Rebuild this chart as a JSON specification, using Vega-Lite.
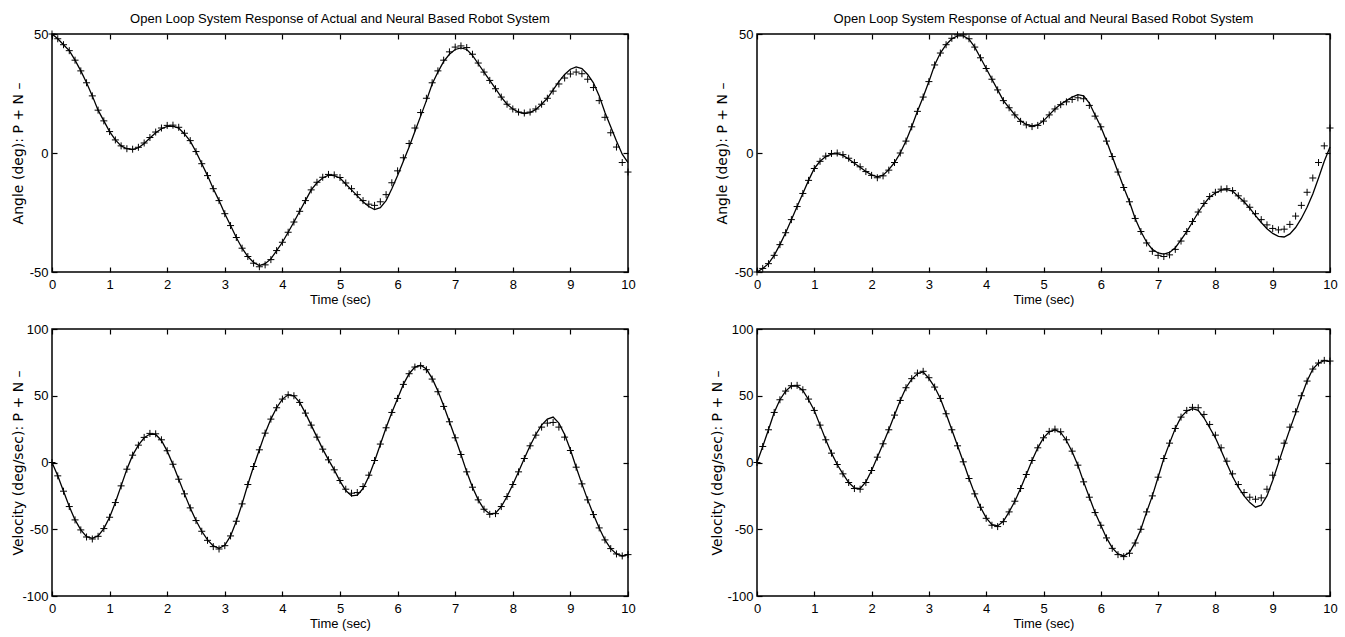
{
"$schema": "https://vega.github.io/schema/vega-lite/v6.json",
"padding": {"left": 10, "top": 12, "right": 5, "bottom": 5},
"background": "white",
"datasets": {
"tl": [
{"t":0,"a":50,"n":50},{"t":0.1,"a":48,"n":48},{"t":0.2,"a":45.5,"n":45.5},{"t":0.3,"a":43,"n":43},{"t":0.4,"a":39,"n":39},{"t":0.5,"a":34.5,"n":34.5},{"t":0.6,"a":29.5,"n":29.5},{"t":0.7,"a":24,"n":24},{"t":0.8,"a":18,"n":18},{"t":0.9,"a":13.5,"n":13.5},
{"t":1,"a":9,"n":9},{"t":1.1,"a":5.5,"n":5.5},{"t":1.2,"a":3,"n":3},{"t":1.3,"a":1.8,"n":1.8},{"t":1.4,"a":1.4,"n":1.6},{"t":1.5,"a":2.2,"n":2.4},{"t":1.6,"a":4,"n":4.2},{"t":1.7,"a":6.3,"n":6.5},{"t":1.8,"a":8.5,"n":8.8},{"t":1.9,"a":10.2,"n":10.5},
{"t":2,"a":11.2,"n":11.6},{"t":2.1,"a":11.3,"n":11.7},{"t":2.2,"a":10.5,"n":10.8},{"t":2.3,"a":8,"n":8.3},{"t":2.4,"a":5,"n":5.2},{"t":2.5,"a":0.5,"n":0.6},{"t":2.6,"a":-4.5,"n":-4.5},{"t":2.7,"a":-9.5,"n":-9.5},{"t":2.8,"a":-15,"n":-15},{"t":2.9,"a":-20,"n":-20},
{"t":3,"a":-25.5,"n":-25.5},{"t":3.1,"a":-30.5,"n":-30.5},{"t":3.2,"a":-35.5,"n":-35.5},{"t":3.3,"a":-40,"n":-40},{"t":3.4,"a":-43.5,"n":-43.5},{"t":3.5,"a":-46,"n":-46.3},{"t":3.6,"a":-47.3,"n":-47.8},{"t":3.7,"a":-46.5,"n":-47},{"t":3.8,"a":-44.5,"n":-44.8},{"t":3.9,"a":-41,"n":-41},
{"t":4,"a":-37.5,"n":-37.5},{"t":4.1,"a":-33.3,"n":-33.3},{"t":4.2,"a":-29,"n":-29},{"t":4.3,"a":-24.5,"n":-24.5},{"t":4.4,"a":-20,"n":-20},{"t":4.5,"a":-15.5,"n":-15.5},{"t":4.6,"a":-12.5,"n":-12.3},{"t":4.7,"a":-10.5,"n":-10.2},{"t":4.8,"a":-9.3,"n":-9},{"t":4.9,"a":-9.5,"n":-9.2},
{"t":5,"a":-10.5,"n":-10.3},{"t":5.1,"a":-13,"n":-12.6},{"t":5.2,"a":-15.5,"n":-15},{"t":5.3,"a":-18,"n":-17.5},{"t":5.4,"a":-20.5,"n":-20},{"t":5.5,"a":-22.5,"n":-21.5},{"t":5.6,"a":-23.8,"n":-22},{"t":5.7,"a":-23,"n":-20.5},{"t":5.8,"a":-20,"n":-17.5},{"t":5.9,"a":-15,"n":-12.5},
{"t":6,"a":-9.5,"n":-7.5},{"t":6.1,"a":-3.5,"n":-2},{"t":6.2,"a":2.5,"n":4},{"t":6.3,"a":9,"n":10.5},{"t":6.4,"a":15.5,"n":17},{"t":6.5,"a":22,"n":23},{"t":6.6,"a":29,"n":29.5},{"t":6.7,"a":34,"n":34.5},{"t":6.8,"a":38.5,"n":39},{"t":6.9,"a":41.5,"n":42.5},
{"t":7,"a":43.5,"n":44.5},{"t":7.1,"a":44.2,"n":45},{"t":7.2,"a":43.5,"n":44.3},{"t":7.3,"a":41,"n":41.5},{"t":7.4,"a":37.5,"n":37.8},{"t":7.5,"a":34,"n":34},{"t":7.6,"a":30.5,"n":30.5},{"t":7.7,"a":27,"n":27},{"t":7.8,"a":23.5,"n":23.5},{"t":7.9,"a":20.5,"n":20.5},
{"t":8,"a":18.5,"n":18.5},{"t":8.1,"a":17.2,"n":17.2},{"t":8.2,"a":16.6,"n":16.8},{"t":8.3,"a":17,"n":17.2},{"t":8.4,"a":18.3,"n":18.5},{"t":8.5,"a":20.5,"n":20.5},{"t":8.6,"a":23,"n":23},{"t":8.7,"a":26.5,"n":26},{"t":8.8,"a":30,"n":29},{"t":8.9,"a":33,"n":31.5},
{"t":9,"a":35.2,"n":33.2},{"t":9.1,"a":36.2,"n":34},{"t":9.2,"a":35.5,"n":33.3},{"t":9.3,"a":33,"n":31},{"t":9.4,"a":29.5,"n":27.5},{"t":9.5,"a":24,"n":22},{"t":9.6,"a":17,"n":15},{"t":9.7,"a":11,"n":8.5},{"t":9.8,"a":5,"n":2.5},{"t":9.9,"a":-0.5,"n":-4},
{"t":10,"a":-4,"n":-8}
],
"tr": [
{"t":0,"a":-50,"n":-50},{"t":0.1,"a":-48.5,"n":-48.5},{"t":0.2,"a":-46.5,"n":-46.5},{"t":0.3,"a":-43,"n":-43},{"t":0.4,"a":-38.5,"n":-38.5},{"t":0.5,"a":-33.5,"n":-33.5},{"t":0.6,"a":-28,"n":-28},{"t":0.7,"a":-22.5,"n":-22.5},{"t":0.8,"a":-17,"n":-17},{"t":0.9,"a":-11.5,"n":-11.5},
{"t":1,"a":-6.5,"n":-6.5},{"t":1.1,"a":-3.5,"n":-3.5},{"t":1.2,"a":-1.5,"n":-1.3},{"t":1.3,"a":-0.5,"n":-0.2},{"t":1.4,"a":-0.3,"n":0},{"t":1.5,"a":-1,"n":-0.7},{"t":1.6,"a":-2.5,"n":-2.2},{"t":1.7,"a":-4.3,"n":-4},{"t":1.8,"a":-6,"n":-5.8},{"t":1.9,"a":-7.8,"n":-7.8},
{"t":2,"a":-9.2,"n":-9.4},{"t":2.1,"a":-10,"n":-10.4},{"t":2.2,"a":-9.3,"n":-9.6},{"t":2.3,"a":-7,"n":-7.2},{"t":2.4,"a":-4,"n":-4},{"t":2.5,"a":0,"n":0},{"t":2.6,"a":5,"n":5},{"t":2.7,"a":11,"n":11},{"t":2.8,"a":17.5,"n":17.5},{"t":2.9,"a":23.5,"n":23.5},
{"t":3,"a":30,"n":30},{"t":3.1,"a":37,"n":37},{"t":3.2,"a":42,"n":42},{"t":3.3,"a":45.5,"n":45.5},{"t":3.4,"a":48,"n":48.2},{"t":3.5,"a":49.2,"n":49.6},{"t":3.6,"a":49.2,"n":49.6},{"t":3.7,"a":47.8,"n":48},{"t":3.8,"a":44.5,"n":44.5},{"t":3.9,"a":40,"n":40},
{"t":4,"a":35.5,"n":35.5},{"t":4.1,"a":31,"n":31},{"t":4.2,"a":26.5,"n":26.5},{"t":4.3,"a":22,"n":22},{"t":4.4,"a":19,"n":19},{"t":4.5,"a":16,"n":16},{"t":4.6,"a":13.5,"n":13.3},{"t":4.7,"a":12,"n":11.8},{"t":4.8,"a":11.4,"n":11.1},{"t":4.9,"a":11.8,"n":11.6},
{"t":5,"a":13.5,"n":13.4},{"t":5.1,"a":16,"n":16},{"t":5.2,"a":18.5,"n":18.5},{"t":5.3,"a":20.5,"n":20.3},{"t":5.4,"a":22,"n":21.5},{"t":5.5,"a":23.5,"n":22.5},{"t":5.6,"a":24.5,"n":23.2},{"t":5.7,"a":24,"n":22.8},{"t":5.8,"a":21,"n":20},{"t":5.9,"a":16,"n":15.5},
{"t":6,"a":11,"n":11},{"t":6.1,"a":5,"n":5},{"t":6.2,"a":-1.5,"n":-1.5},{"t":6.3,"a":-8,"n":-8},{"t":6.4,"a":-14.5,"n":-14.5},{"t":6.5,"a":-20.5,"n":-20.5},{"t":6.6,"a":-27.5,"n":-27.5},{"t":6.7,"a":-33,"n":-33},{"t":6.8,"a":-37.5,"n":-37.8},{"t":6.9,"a":-40.5,"n":-41.3},
{"t":7,"a":-42,"n":-43},{"t":7.1,"a":-42.5,"n":-43.5},{"t":7.2,"a":-41.8,"n":-42.8},{"t":7.3,"a":-39.8,"n":-40.5},{"t":7.4,"a":-36.5,"n":-37},{"t":7.5,"a":-33,"n":-33},{"t":7.6,"a":-29,"n":-28.8},{"t":7.7,"a":-25,"n":-24.8},{"t":7.8,"a":-21.5,"n":-21.2},{"t":7.9,"a":-18.5,"n":-18.3},
{"t":8,"a":-16.8,"n":-16.5},{"t":8.1,"a":-15.6,"n":-15.2},{"t":8.2,"a":-15.4,"n":-15},{"t":8.3,"a":-16,"n":-15.8},{"t":8.4,"a":-18.3,"n":-18},{"t":8.5,"a":-20.5,"n":-20.2},{"t":8.6,"a":-23.2,"n":-22.8},{"t":8.7,"a":-26.3,"n":-25.5},{"t":8.8,"a":-29.2,"n":-28},{"t":8.9,"a":-31.8,"n":-30.2},
{"t":9,"a":-33.8,"n":-31.7},{"t":9.1,"a":-35,"n":-32.3},{"t":9.2,"a":-35.3,"n":-32},{"t":9.3,"a":-34,"n":-30},{"t":9.4,"a":-31.3,"n":-26.5},{"t":9.5,"a":-27.5,"n":-22},{"t":9.6,"a":-22.8,"n":-16.5},{"t":9.7,"a":-17.2,"n":-10.5},{"t":9.8,"a":-10.5,"n":-4},{"t":9.9,"a":-3.5,"n":3},
{"t":10,"a":2.5,"n":10.5}
],
"bl": [
{"t":0,"a":0,"n":0},{"t":0.1,"a":-10,"n":-10},{"t":0.2,"a":-21.5,"n":-21.5},{"t":0.3,"a":-33,"n":-33},{"t":0.4,"a":-43,"n":-43},{"t":0.5,"a":-50.5,"n":-50.5},{"t":0.6,"a":-55.5,"n":-55.8},{"t":0.7,"a":-56.8,"n":-57.3},{"t":0.8,"a":-55,"n":-55.3},{"t":0.9,"a":-49.5,"n":-49.5},
{"t":1,"a":-41,"n":-41},{"t":1.1,"a":-30,"n":-30},{"t":1.2,"a":-17.5,"n":-17.5},{"t":1.3,"a":-5,"n":-5},{"t":1.4,"a":5.5,"n":5.5},{"t":1.5,"a":13,"n":13},{"t":1.6,"a":18.5,"n":18.8},{"t":1.7,"a":21.3,"n":21.8},{"t":1.8,"a":21,"n":21.5},{"t":1.9,"a":16.5,"n":17},
{"t":2,"a":8.5,"n":8.8},{"t":2.1,"a":-1.5,"n":-1.3},{"t":2.2,"a":-12.5,"n":-12.5},{"t":2.3,"a":-23.5,"n":-23.5},{"t":2.4,"a":-34,"n":-34},{"t":2.5,"a":-43.5,"n":-43.5},{"t":2.6,"a":-51.5,"n":-51.5},{"t":2.7,"a":-58,"n":-58.3},{"t":2.8,"a":-62.5,"n":-63},{"t":2.9,"a":-64.3,"n":-64.8},
{"t":3,"a":-62,"n":-62.3},{"t":3.1,"a":-55,"n":-55},{"t":3.2,"a":-44,"n":-44},{"t":3.3,"a":-31,"n":-31},{"t":3.4,"a":-16.5,"n":-16.5},{"t":3.5,"a":-3,"n":-3},{"t":3.6,"a":9.5,"n":9.5},{"t":3.7,"a":22,"n":22},{"t":3.8,"a":32.5,"n":32.5},{"t":3.9,"a":41,"n":41},
{"t":4,"a":47.5,"n":47.5},{"t":4.1,"a":50.7,"n":50.7},{"t":4.2,"a":50,"n":50},{"t":4.3,"a":45,"n":45},{"t":4.4,"a":37,"n":37},{"t":4.5,"a":28,"n":28},{"t":4.6,"a":19,"n":19},{"t":4.7,"a":10,"n":10},{"t":4.8,"a":2,"n":2},{"t":4.9,"a":-5.5,"n":-5.5},
{"t":5,"a":-14,"n":-13.5},{"t":5.1,"a":-21,"n":-20},{"t":5.2,"a":-25,"n":-23},{"t":5.3,"a":-24.5,"n":-22.5},{"t":5.4,"a":-19.5,"n":-18},{"t":5.5,"a":-10.5,"n":-9.5},{"t":5.6,"a":1,"n":1.5},{"t":5.7,"a":13.5,"n":13.8},{"t":5.8,"a":26,"n":26},{"t":5.9,"a":37.5,"n":37.5},
{"t":6,"a":48,"n":48},{"t":6.1,"a":58.5,"n":58.5},{"t":6.2,"a":66.5,"n":66.5},{"t":6.3,"a":71.5,"n":71.5},{"t":6.4,"a":72.8,"n":72.5},{"t":6.5,"a":70,"n":69.5},{"t":6.6,"a":63,"n":62.5},{"t":6.7,"a":53.5,"n":53},{"t":6.8,"a":42.5,"n":42},{"t":6.9,"a":30.5,"n":30.5},
{"t":7,"a":18.5,"n":18.5},{"t":7.1,"a":6,"n":6},{"t":7.2,"a":-7,"n":-7},{"t":7.3,"a":-18.5,"n":-18.5},{"t":7.4,"a":-28,"n":-28},{"t":7.5,"a":-35,"n":-35},{"t":7.6,"a":-38.5,"n":-38.8},{"t":7.7,"a":-38,"n":-38.3},{"t":7.8,"a":-33,"n":-33},{"t":7.9,"a":-25.5,"n":-25.5},
{"t":8,"a":-16.5,"n":-16.5},{"t":8.1,"a":-7,"n":-7},{"t":8.2,"a":3,"n":3},{"t":8.3,"a":12.5,"n":12.5},{"t":8.4,"a":21,"n":20.5},{"t":8.5,"a":28,"n":26.5},{"t":8.6,"a":32.5,"n":29.5},{"t":8.7,"a":34,"n":30},{"t":8.8,"a":29.5,"n":26.5},{"t":8.9,"a":21,"n":19},
{"t":9,"a":9.5,"n":9},{"t":9.1,"a":-3.5,"n":-3.5},{"t":9.2,"a":-16,"n":-16},{"t":9.3,"a":-28,"n":-28},{"t":9.4,"a":-39,"n":-39},{"t":9.5,"a":-49,"n":-49},{"t":9.6,"a":-58,"n":-58},{"t":9.7,"a":-64.5,"n":-64.5},{"t":9.8,"a":-68.5,"n":-68.5},{"t":9.9,"a":-70,"n":-70},
{"t":10,"a":-69,"n":-69}
],
"br": [
{"t":0,"a":0,"n":0},{"t":0.1,"a":12,"n":12},{"t":0.2,"a":24.5,"n":24.5},{"t":0.3,"a":37.5,"n":37.5},{"t":0.4,"a":47,"n":47},{"t":0.5,"a":53.5,"n":53.5},{"t":0.6,"a":57.3,"n":57.5},{"t":0.7,"a":57.3,"n":57.8},{"t":0.8,"a":54,"n":54.5},{"t":0.9,"a":47,"n":47.5},
{"t":1,"a":39,"n":39},{"t":1.1,"a":28,"n":28},{"t":1.2,"a":17,"n":17},{"t":1.3,"a":7,"n":7},{"t":1.4,"a":-1.5,"n":-1.5},{"t":1.5,"a":-8.5,"n":-8.5},{"t":1.6,"a":-15,"n":-15},{"t":1.7,"a":-19,"n":-19.5},{"t":1.8,"a":-19.5,"n":-20},{"t":1.9,"a":-14.5,"n":-15},
{"t":2,"a":-6,"n":-6},{"t":2.1,"a":4,"n":4},{"t":2.2,"a":14,"n":14},{"t":2.3,"a":24.5,"n":24.5},{"t":2.4,"a":35.5,"n":35.5},{"t":2.5,"a":46.5,"n":46.5},{"t":2.6,"a":56,"n":56},{"t":2.7,"a":62.5,"n":62.8},{"t":2.8,"a":66.5,"n":67},{"t":2.9,"a":67.8,"n":68.3},
{"t":3,"a":63,"n":63.5},{"t":3.1,"a":56.5,"n":56.5},{"t":3.2,"a":48,"n":48},{"t":3.3,"a":36.5,"n":36.5},{"t":3.4,"a":24.5,"n":24.5},{"t":3.5,"a":12.5,"n":12.5},{"t":3.6,"a":0.5,"n":0.5},{"t":3.7,"a":-12,"n":-12},{"t":3.8,"a":-23.5,"n":-23.5},{"t":3.9,"a":-33.5,"n":-33.5},
{"t":4,"a":-41.5,"n":-41.8},{"t":4.1,"a":-46.5,"n":-47},{"t":4.2,"a":-47.5,"n":-48},{"t":4.3,"a":-44,"n":-44.3},{"t":4.4,"a":-37,"n":-37},{"t":4.5,"a":-29,"n":-29},{"t":4.6,"a":-19.5,"n":-19.5},{"t":4.7,"a":-9,"n":-9},{"t":4.8,"a":1.5,"n":1.5},{"t":4.9,"a":11,"n":11},
{"t":5,"a":18.5,"n":18.5},{"t":5.1,"a":23,"n":23.3},{"t":5.2,"a":24.5,"n":25},{"t":5.3,"a":22.5,"n":23},{"t":5.4,"a":16.5,"n":17},{"t":5.5,"a":8,"n":8.5},{"t":5.6,"a":-2,"n":-2},{"t":5.7,"a":-14.5,"n":-14.5},{"t":5.8,"a":-26,"n":-26},{"t":5.9,"a":-37.5,"n":-37.5},
{"t":6,"a":-47,"n":-47},{"t":6.1,"a":-56.5,"n":-56.5},{"t":6.2,"a":-64,"n":-64.3},{"t":6.3,"a":-68.5,"n":-69},{"t":6.4,"a":-70,"n":-70.5},{"t":6.5,"a":-67.5,"n":-68},{"t":6.6,"a":-60,"n":-60.3},{"t":6.7,"a":-50,"n":-50},{"t":6.8,"a":-37,"n":-37},{"t":6.9,"a":-25,"n":-25},
{"t":7,"a":-11,"n":-11},{"t":7.1,"a":3,"n":3},{"t":7.2,"a":14.5,"n":14.5},{"t":7.3,"a":25.5,"n":25.5},{"t":7.4,"a":34,"n":34},{"t":7.5,"a":38.5,"n":39},{"t":7.6,"a":40.3,"n":41.3},{"t":7.7,"a":39,"n":41},{"t":7.8,"a":33.5,"n":36},{"t":7.9,"a":26,"n":28.5},
{"t":8,"a":18.5,"n":20.5},{"t":8.1,"a":9,"n":11},{"t":8.2,"a":-1,"n":1},{"t":8.3,"a":-10.5,"n":-8.5},{"t":8.4,"a":-18.5,"n":-16.5},{"t":8.5,"a":-25,"n":-22.5},{"t":8.6,"a":-30,"n":-26},{"t":8.7,"a":-33.5,"n":-27.5},{"t":8.8,"a":-32,"n":-26.5},{"t":8.9,"a":-25,"n":-20},
{"t":9,"a":-13.5,"n":-9.5},{"t":9.1,"a":-0.5,"n":2.5},{"t":9.2,"a":12.5,"n":14.5},{"t":9.3,"a":25,"n":26.5},{"t":9.4,"a":37,"n":38},{"t":9.5,"a":49.5,"n":50},{"t":9.6,"a":61,"n":61},{"t":9.7,"a":70,"n":70},{"t":9.8,"a":74.5,"n":74.5},{"t":9.9,"a":76.3,"n":76.5},
{"t":10,"a":75.5,"n":76}
]
},
"columns": 2,
"bounds": "flush",
"align": "each",
"spacing": {"row": 57, "column": 129},
"concat": [
{
"width": 576, "height": 238,
"title": {"text": "Open Loop System Response of Actual and Neural Based Robot System", "frame": "group", "offset": 2},
"data": {"name": "tl"},
"layer": [
{"mark": {"type": "line", "color": "black", "strokeWidth": 1.3},
 "encoding": {
  "x": {"field": "t", "type": "quantitative", "scale": {"domain": [0, 10], "nice": false}, "axis": {"title": "Time (sec)", "values": [0,1,2,3,4,5,6,7,8,9,10]}},
  "y": {"field": "a", "type": "quantitative", "scale": {"domain": [-50, 50], "nice": false}, "axis": {"title": "Angle (deg): P + N \u2013", "values": [-50, 0, 50], "titleX": -27}}
 }},
{"mark": {"type": "point", "shape": "M-1,0H1M0,-1V1", "filled": false, "color": "black", "size": 49, "strokeWidth": 1, "opacity": 1},
 "encoding": {
  "x": {"field": "t", "type": "quantitative", "scale": {"domain": [0, 10], "nice": false}, "axis": {"orient": "top", "labels": false, "title": null, "values": [0,1,2,3,4,5,6,7,8,9,10]}},
  "y": {"field": "n", "type": "quantitative", "scale": {"domain": [-50, 50], "nice": false}, "axis": {"orient": "right", "labels": false, "title": null, "values": [-50, 0, 50]}}
 }}
],
"resolve": {"axis": {"x": "independent", "y": "independent"}}
},
{
"width": 573, "height": 238,
"title": {"text": "Open Loop System Response of Actual and Neural Based Robot System", "frame": "group", "offset": 2},
"data": {"name": "tr"},
"layer": [
{"mark": {"type": "line", "color": "black", "strokeWidth": 1.3},
 "encoding": {
  "x": {"field": "t", "type": "quantitative", "scale": {"domain": [0, 10], "nice": false}, "axis": {"title": "Time (sec)", "values": [0,1,2,3,4,5,6,7,8,9,10]}},
  "y": {"field": "a", "type": "quantitative", "scale": {"domain": [-50, 50], "nice": false}, "axis": {"title": "Angle (deg): P + N \u2013", "values": [-50, 0, 50], "titleX": -28}}
 }},
{"mark": {"type": "point", "shape": "M-1,0H1M0,-1V1", "filled": false, "color": "black", "size": 49, "strokeWidth": 1, "opacity": 1},
 "encoding": {
  "x": {"field": "t", "type": "quantitative", "scale": {"domain": [0, 10], "nice": false}, "axis": {"orient": "top", "labels": false, "title": null, "values": [0,1,2,3,4,5,6,7,8,9,10]}},
  "y": {"field": "n", "type": "quantitative", "scale": {"domain": [-50, 50], "nice": false}, "axis": {"orient": "right", "labels": false, "title": null, "values": [-50, 0, 50]}}
 }}
],
"resolve": {"axis": {"x": "independent", "y": "independent"}}
},
{
"width": 576, "height": 267,
"data": {"name": "bl"},
"layer": [
{"mark": {"type": "line", "color": "black", "strokeWidth": 1.3},
 "encoding": {
  "x": {"field": "t", "type": "quantitative", "scale": {"domain": [0, 10], "nice": false}, "axis": {"title": "Time (sec)", "values": [0,1,2,3,4,5,6,7,8,9,10]}},
  "y": {"field": "a", "type": "quantitative", "scale": {"domain": [-100, 100], "nice": false}, "axis": {"title": "Velocity (deg/sec): P + N \u2013", "values": [-100, -50, 0, 50, 100], "titleX": -27}}
 }},
{"mark": {"type": "point", "shape": "M-1,0H1M0,-1V1", "filled": false, "color": "black", "size": 49, "strokeWidth": 1, "opacity": 1},
 "encoding": {
  "x": {"field": "t", "type": "quantitative", "scale": {"domain": [0, 10], "nice": false}, "axis": {"orient": "top", "labels": false, "title": null, "values": [0,1,2,3,4,5,6,7,8,9,10]}},
  "y": {"field": "n", "type": "quantitative", "scale": {"domain": [-100, 100], "nice": false}, "axis": {"orient": "right", "labels": false, "title": null, "values": [-100, -50, 0, 50, 100]}}
 }}
],
"resolve": {"axis": {"x": "independent", "y": "independent"}}
},
{
"width": 573, "height": 267,
"data": {"name": "br"},
"layer": [
{"mark": {"type": "line", "color": "black", "strokeWidth": 1.3},
 "encoding": {
  "x": {"field": "t", "type": "quantitative", "scale": {"domain": [0, 10], "nice": false}, "axis": {"title": "Time (sec)", "values": [0,1,2,3,4,5,6,7,8,9,10]}},
  "y": {"field": "a", "type": "quantitative", "scale": {"domain": [-100, 100], "nice": false}, "axis": {"title": "Velocity (deg/sec): P + N \u2013", "values": [-100, -50, 0, 50, 100], "titleX": -33}}
 }},
{"mark": {"type": "point", "shape": "M-1,0H1M0,-1V1", "filled": false, "color": "black", "size": 49, "strokeWidth": 1, "opacity": 1},
 "encoding": {
  "x": {"field": "t", "type": "quantitative", "scale": {"domain": [0, 10], "nice": false}, "axis": {"orient": "top", "labels": false, "title": null, "values": [0,1,2,3,4,5,6,7,8,9,10]}},
  "y": {"field": "n", "type": "quantitative", "scale": {"domain": [-100, 100], "nice": false}, "axis": {"orient": "right", "labels": false, "title": null, "values": [-100, -50, 0, 50, 100]}}
 }}
],
"resolve": {"axis": {"x": "independent", "y": "independent"}}
}
],
"config": {
 "view": {"stroke": "black", "strokeWidth": 1.5},
 "axis": {"grid": false, "domain": false, "ticks": true, "tickColor": "black", "tickSize": -5, "tickWidth": 1.2, "labelPadding": 9, "labelFont": "Liberation Sans", "labelFontSize": 13, "labelColor": "black", "labelFlush": false, "labelOverlap": false, "labelExpr": "'' + datum.value", "titleFont": "DejaVu Sans", "titleFontSize": 14, "titleFontWeight": "normal", "titleColor": "black"},
 "axisX": {"labelPadding": 11, "titleFont": "Liberation Sans", "titleFontSize": 13, "titlePadding": 2},
 "title": {"font": "Liberation Sans", "fontSize": 13, "fontWeight": "normal", "color": "black", "anchor": "middle"}
}
}
